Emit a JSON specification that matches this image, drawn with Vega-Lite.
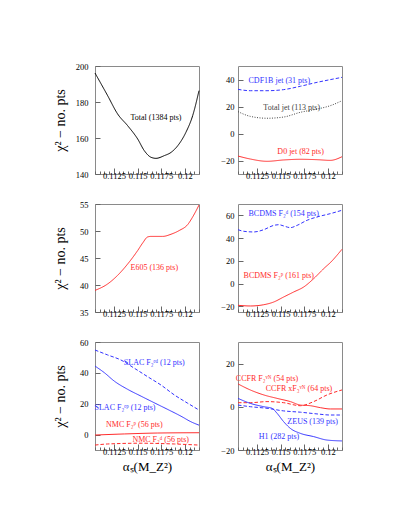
{
  "$schema": "https://vega.github.io/schema/vega-lite/v6.json",
  "padding": {"top": 61, "left": 52, "right": 0, "bottom": 0},
  "background": "white",
  "config": {
    "font": "Liberation Serif",
    "view": {"stroke": "#8a8a8a", "strokeWidth": 1},
    "axis": {"domain": false, "grid": false, "labelFont": "Liberation Serif", "labelFontSize": 8.5, "labelColor": "#000", "tickColor": "#666", "titleFont": "Liberation Serif", "titleFontWeight": "normal", "titleColor": "#000", "labelFlush": false, "labelOverlap": false},
    "text": {"font": "Liberation Serif", "fontSize": 8},
    "line": {"strokeWidth": 1, "interpolate": "monotone"}
  },
  "datasets": {
    "curves": [
      {"panel": 1, "series": "total", "x": 0.1105, "y": 196.1},
      {"panel": 1, "series": "total", "x": 0.11184, "y": 183.5},
      {"panel": 1, "series": "total", "x": 0.1129, "y": 173.3},
      {"panel": 1, "series": "total", "x": 0.11396, "y": 166.8},
      {"panel": 1, "series": "total", "x": 0.11502, "y": 159.4},
      {"panel": 1, "series": "total", "x": 0.11571, "y": 153.0},
      {"panel": 1, "series": "total", "x": 0.11642, "y": 149.3},
      {"panel": 1, "series": "total", "x": 0.11695, "y": 148.7},
      {"panel": 1, "series": "total", "x": 0.11783, "y": 150.2},
      {"panel": 1, "series": "total", "x": 0.11854, "y": 152.0},
      {"panel": 1, "series": "total", "x": 0.11925, "y": 155.7},
      {"panel": 1, "series": "total", "x": 0.12012, "y": 163.2},
      {"panel": 1, "series": "total", "x": 0.12083, "y": 172.4},
      {"panel": 1, "series": "total", "x": 0.1215, "y": 186.3},

      {"panel": 2, "series": "cdf", "x": 0.1105, "y": 32.7},
      {"panel": 2, "series": "cdf", "x": 0.1118, "y": 31.7},
      {"panel": 2, "series": "cdf", "x": 0.11357, "y": 31.7},
      {"panel": 2, "series": "cdf", "x": 0.11533, "y": 32.5},
      {"panel": 2, "series": "cdf", "x": 0.1171, "y": 35.0},
      {"panel": 2, "series": "cdf", "x": 0.11886, "y": 37.9},
      {"panel": 2, "series": "cdf", "x": 0.12026, "y": 39.9},
      {"panel": 2, "series": "cdf", "x": 0.1215, "y": 41.6},
      {"panel": 2, "series": "totaljet", "x": 0.1105, "y": 16.2},
      {"panel": 2, "series": "totaljet", "x": 0.1118, "y": 12.7},
      {"panel": 2, "series": "totaljet", "x": 0.11357, "y": 11.3},
      {"panel": 2, "series": "totaljet", "x": 0.11533, "y": 12.2},
      {"panel": 2, "series": "totaljet", "x": 0.1171, "y": 15.7},
      {"panel": 2, "series": "totaljet", "x": 0.11886, "y": 18.1},
      {"panel": 2, "series": "totaljet", "x": 0.12026, "y": 20.6},
      {"panel": 2, "series": "totaljet", "x": 0.1215, "y": 24.3},
      {"panel": 2, "series": "d0", "x": 0.1105, "y": -16.7},
      {"panel": 2, "series": "d0", "x": 0.1118, "y": -18.9},
      {"panel": 2, "series": "d0", "x": 0.11357, "y": -20.6},
      {"panel": 2, "series": "d0", "x": 0.11533, "y": -19.6},
      {"panel": 2, "series": "d0", "x": 0.1171, "y": -19.1},
      {"panel": 2, "series": "d0", "x": 0.11886, "y": -19.4},
      {"panel": 2, "series": "d0", "x": 0.12026, "y": -19.9},
      {"panel": 2, "series": "d0", "x": 0.1215, "y": -17.2},

      {"panel": 3, "series": "e605", "x": 0.1105, "y": 39.0},
      {"panel": 3, "series": "e605", "x": 0.11184, "y": 40.2},
      {"panel": 3, "series": "e605", "x": 0.1129, "y": 41.8},
      {"panel": 3, "series": "e605", "x": 0.11396, "y": 43.9},
      {"panel": 3, "series": "e605", "x": 0.11502, "y": 46.4},
      {"panel": 3, "series": "e605", "x": 0.11555, "y": 47.8},
      {"panel": 3, "series": "e605", "x": 0.11607, "y": 48.9},
      {"panel": 3, "series": "e605", "x": 0.11642, "y": 49.0},
      {"panel": 3, "series": "e605", "x": 0.11766, "y": 49.0},
      {"panel": 3, "series": "e605", "x": 0.11854, "y": 49.4},
      {"panel": 3, "series": "e605", "x": 0.11942, "y": 50.1},
      {"panel": 3, "series": "e605", "x": 0.12031, "y": 51.2},
      {"panel": 3, "series": "e605", "x": 0.12083, "y": 52.6},
      {"panel": 3, "series": "e605", "x": 0.1215, "y": 54.8},

      {"panel": 4, "series": "bcdms_d", "x": 0.1105, "y": 47.4},
      {"panel": 4, "series": "bcdms_d", "x": 0.11111, "y": 46.0},
      {"panel": 4, "series": "bcdms_d", "x": 0.11217, "y": 45.4},
      {"panel": 4, "series": "bcdms_d", "x": 0.11322, "y": 47.4},
      {"panel": 4, "series": "bcdms_d", "x": 0.11428, "y": 51.2},
      {"panel": 4, "series": "bcdms_d", "x": 0.11481, "y": 51.8},
      {"panel": 4, "series": "bcdms_d", "x": 0.11533, "y": 50.7},
      {"panel": 4, "series": "bcdms_d", "x": 0.11604, "y": 49.2},
      {"panel": 4, "series": "bcdms_d", "x": 0.11675, "y": 51.2},
      {"panel": 4, "series": "bcdms_d", "x": 0.11781, "y": 55.7},
      {"panel": 4, "series": "bcdms_d", "x": 0.11886, "y": 58.6},
      {"panel": 4, "series": "bcdms_d", "x": 0.12026, "y": 61.5},
      {"panel": 4, "series": "bcdms_d", "x": 0.1215, "y": 64.5},
      {"panel": 4, "series": "bcdms_p", "x": 0.1105, "y": -19.1},
      {"panel": 4, "series": "bcdms_p", "x": 0.1118, "y": -19.7},
      {"panel": 4, "series": "bcdms_p", "x": 0.11322, "y": -18.6},
      {"panel": 4, "series": "bcdms_p", "x": 0.11428, "y": -16.2},
      {"panel": 4, "series": "bcdms_p", "x": 0.11533, "y": -11.8},
      {"panel": 4, "series": "bcdms_p", "x": 0.11639, "y": -7.4},
      {"panel": 4, "series": "bcdms_p", "x": 0.11745, "y": -3.0},
      {"panel": 4, "series": "bcdms_p", "x": 0.1185, "y": 4.3},
      {"panel": 4, "series": "bcdms_p", "x": 0.11956, "y": 13.1},
      {"panel": 4, "series": "bcdms_p", "x": 0.12044, "y": 19.9},
      {"panel": 4, "series": "bcdms_p", "x": 0.12097, "y": 24.9},
      {"panel": 4, "series": "bcdms_p", "x": 0.1215, "y": 30.2},

      {"panel": 5, "series": "slac_ed", "x": 0.1105, "y": 54.8},
      {"panel": 5, "series": "slac_ed", "x": 0.11184, "y": 51.6},
      {"panel": 5, "series": "slac_ed", "x": 0.11325, "y": 48.3},
      {"panel": 5, "series": "slac_ed", "x": 0.11466, "y": 43.0},
      {"panel": 5, "series": "slac_ed", "x": 0.11607, "y": 37.5},
      {"panel": 5, "series": "slac_ed", "x": 0.11748, "y": 32.1},
      {"panel": 5, "series": "slac_ed", "x": 0.11889, "y": 25.7},
      {"panel": 5, "series": "slac_ed", "x": 0.12031, "y": 20.3},
      {"panel": 5, "series": "slac_ed", "x": 0.1215, "y": 15.9},
      {"panel": 5, "series": "slac_ep", "x": 0.1105, "y": 44.4},
      {"panel": 5, "series": "slac_ep", "x": 0.11149, "y": 40.1},
      {"panel": 5, "series": "slac_ep", "x": 0.11255, "y": 34.6},
      {"panel": 5, "series": "slac_ep", "x": 0.11396, "y": 29.3},
      {"panel": 5, "series": "slac_ep", "x": 0.11537, "y": 24.9},
      {"panel": 5, "series": "slac_ep", "x": 0.11677, "y": 20.6},
      {"panel": 5, "series": "slac_ep", "x": 0.11819, "y": 16.3},
      {"panel": 5, "series": "slac_ep", "x": 0.1196, "y": 11.9},
      {"panel": 5, "series": "slac_ep", "x": 0.12065, "y": 8.3},
      {"panel": 5, "series": "slac_ep", "x": 0.1215, "y": 6.1},
      {"panel": 5, "series": "nmc_p", "x": 0.1105, "y": -0.3},
      {"panel": 5, "series": "nmc_p", "x": 0.1136, "y": 0.4},
      {"panel": 5, "series": "nmc_p", "x": 0.11713, "y": 1.0},
      {"panel": 5, "series": "nmc_p", "x": 0.1215, "y": 1.2},
      {"panel": 5, "series": "nmc_d", "x": 0.1105, "y": -6.8},
      {"panel": 5, "series": "nmc_d", "x": 0.11184, "y": -6.1},
      {"panel": 5, "series": "nmc_d", "x": 0.11537, "y": -5.6},
      {"panel": 5, "series": "nmc_d", "x": 0.11889, "y": -6.1},
      {"panel": 5, "series": "nmc_d", "x": 0.1215, "y": -6.8},

      {"panel": 6, "series": "ccfr_f2", "x": 0.1105, "y": 10.6},
      {"panel": 6, "series": "ccfr_f2", "x": 0.1118, "y": 7.8},
      {"panel": 6, "series": "ccfr_f2", "x": 0.11322, "y": 5.5},
      {"panel": 6, "series": "ccfr_f2", "x": 0.11463, "y": 3.9},
      {"panel": 6, "series": "ccfr_f2", "x": 0.11604, "y": 2.4},
      {"panel": 6, "series": "ccfr_f2", "x": 0.1171, "y": 0.8},
      {"panel": 6, "series": "ccfr_f2", "x": 0.11816, "y": 0.5},
      {"panel": 6, "series": "ccfr_f2", "x": 0.11922, "y": -0.4},
      {"panel": 6, "series": "ccfr_f2", "x": 0.12026, "y": -1.0},
      {"panel": 6, "series": "ccfr_f2", "x": 0.1215, "y": -1.0},
      {"panel": 6, "series": "ccfr_xf3", "x": 0.1105, "y": 1.9},
      {"panel": 6, "series": "ccfr_xf3", "x": 0.1118, "y": 1.9},
      {"panel": 6, "series": "ccfr_xf3", "x": 0.11357, "y": 2.4},
      {"panel": 6, "series": "ccfr_xf3", "x": 0.11533, "y": 1.9},
      {"panel": 6, "series": "ccfr_xf3", "x": 0.1171, "y": 0.5},
      {"panel": 6, "series": "ccfr_xf3", "x": 0.1185, "y": 2.4},
      {"panel": 6, "series": "ccfr_xf3", "x": 0.11992, "y": 5.5},
      {"panel": 6, "series": "ccfr_xf3", "x": 0.1215, "y": 7.8},
      {"panel": 6, "series": "zeus", "x": 0.1105, "y": 0.8},
      {"panel": 6, "series": "zeus", "x": 0.1118, "y": 0.05},
      {"panel": 6, "series": "zeus", "x": 0.11357, "y": -0.7},
      {"panel": 6, "series": "zeus", "x": 0.11533, "y": -1.9},
      {"panel": 6, "series": "zeus", "x": 0.1171, "y": -2.5},
      {"panel": 6, "series": "zeus", "x": 0.11886, "y": -3.3},
      {"panel": 6, "series": "zeus", "x": 0.12026, "y": -3.8},
      {"panel": 6, "series": "zeus", "x": 0.1215, "y": -3.8},
      {"panel": 6, "series": "h1", "x": 0.1105, "y": 3.9},
      {"panel": 6, "series": "h1", "x": 0.1118, "y": 1.6},
      {"panel": 6, "series": "h1", "x": 0.11322, "y": 0.05},
      {"panel": 6, "series": "h1", "x": 0.1141, "y": -0.7},
      {"panel": 6, "series": "h1", "x": 0.11463, "y": -3.0},
      {"panel": 6, "series": "h1", "x": 0.11533, "y": -6.9},
      {"panel": 6, "series": "h1", "x": 0.11604, "y": -10.0},
      {"panel": 6, "series": "h1", "x": 0.1171, "y": -12.3},
      {"panel": 6, "series": "h1", "x": 0.1185, "y": -13.8},
      {"panel": 6, "series": "h1", "x": 0.11992, "y": -15.4},
      {"panel": 6, "series": "h1", "x": 0.1215, "y": -15.8}
    ],
    "labels": [
      {"panel": 1, "series": "total", "label": "Total (1384 pts)", "x": 0.11695, "y": 171},
      {"panel": 2, "series": "cdf", "label": "CDF1B jet (31 pts)", "x": 0.11487, "y": 38.9},
      {"panel": 2, "series": "totaljet", "label": "Total jet (113 pts)", "x": 0.11618, "y": 19.1},
      {"panel": 2, "series": "d0", "label": "D0 jet (82 pts)", "x": 0.11712, "y": -13.5},
      {"panel": 3, "series": "e605", "label": "E605 (136 pts)", "x": 0.11677, "y": 43.2},
      {"panel": 4, "series": "bcdms_d", "label": "BCDMS F₂ᵈ (154 pts)", "x": 0.11533, "y": 61.5},
      {"panel": 4, "series": "bcdms_p", "label": "BCDMS F₂ᵖ (161 pts)", "x": 0.11481, "y": 6.7},
      {"panel": 5, "series": "slac_ed", "label": "SLAC F₂ᵉᵈ (12 pts)", "x": 0.11677, "y": 46.2},
      {"panel": 5, "series": "slac_ep", "label": "SLAC F₂ᵉᵖ (12 pts)", "x": 0.11367, "y": 17.0},
      {"panel": 5, "series": "nmc_p", "label": "NMC F₂ᵖ (56 pts)", "x": 0.11466, "y": 6.2},
      {"panel": 5, "series": "nmc_d", "label": "NMC F₂ᵈ (56 pts)", "x": 0.11745, "y": -3.3},
      {"panel": 6, "series": "ccfr_f2", "label": "CCFR F₂ᵛᴺ (54 pts)", "x": 0.11357, "y": 12.9},
      {"panel": 6, "series": "ccfr_xf3", "label": "CCFR xF₃ᵛᴺ (64 pts)", "x": 0.11695, "y": 8.1},
      {"panel": 6, "series": "zeus", "label": "ZEUS (139 pts)", "x": 0.1184, "y": -7.2},
      {"panel": 6, "series": "h1", "label": "H1 (282 pts)", "x": 0.11484, "y": -13.8}
    ]
  },
  "columns": 2,
  "spacing": {"row": 16, "column": 18},
  "resolve": {"scale": {"x": "independent", "y": "independent", "color": "shared", "strokeDash": "shared"}},
  "concat": [
    {
      "width": 104, "height": 108,
      "encoding": {
        "x": {"field": "x", "type": "quantitative", "scale": {"domain": [0.1105, 0.1215], "nice": false, "zero": false},
              "axis": {"title": null, "values": [0.1105,0.111,0.1115,0.112,0.1125,0.113,0.1135,0.114,0.1145,0.115,0.1155,0.116,0.1165,0.117,0.1175,0.118,0.1185,0.119,0.1195,0.12,0.1205,0.121,0.1215],
                       "labelExpr": "abs(datum.value*400-round(datum.value*400))<0.01 ? format(datum.value,'.4~f') : ''",
                       "tickSize": {"condition": {"test": "abs(datum.value*400-round(datum.value*400))<0.01", "value": -6}, "value": -3}, "labelPadding": 3}},
        "y": {"field": "y", "type": "quantitative", "scale": {"domain": [140, 200], "nice": false, "zero": false},
              "axis": {"values": [140,160,180,200], "tickSize": -5, "labelPadding": 12, "title": "χ² − no. pts", "titleFontSize": 14, "minExtent": 22, "maxExtent": 22, "titlePadding": 6}}
      },
      "layer": [
        {"data": {"name": "curves"}, "transform": [{"filter": "datum.panel == 1"}], "mark": "line",
         "encoding": {
           "color": {"field": "series", "type": "nominal", "legend": null, "scale": {"domain": ["total","cdf","totaljet","d0","e605","bcdms_d","bcdms_p","slac_ed","slac_ep","nmc_p","nmc_d","ccfr_f2","ccfr_xf3","zeus","h1"], "range": ["#000000","#3333ff","#444444","#ff2a2a","#ff2a2a","#3333ff","#ff2a2a","#3333ff","#3333ff","#ff2a2a","#ff2a2a","#ff2a2a","#ff2a2a","#3333ff","#3333ff"]}},
           "strokeDash": {"field": "series", "type": "nominal", "legend": null, "scale": {"domain": ["total","cdf","totaljet","d0","e605","bcdms_d","bcdms_p","slac_ed","slac_ep","nmc_p","nmc_d","ccfr_f2","ccfr_xf3","zeus","h1"], "range": [[1,0],[3.5,2],[1,1.5],[1,0],[1,0],[3.5,2],[1,0],[3.5,2],[1,0],[1,0],[3.5,2],[1,0],[3.5,2],[3.5,2],[1,0]]}}
         }},
        {"data": {"name": "labels"}, "transform": [{"filter": "datum.panel == 1"}], "mark": {"type": "text"},
         "encoding": {"text": {"field": "label"}, "color": {"field": "series", "type": "nominal", "legend": null}}}
      ]
    },
    {
      "width": 104, "height": 108,
      "encoding": {
        "x": {"field": "x", "type": "quantitative", "scale": {"domain": [0.1105, 0.1215], "nice": false, "zero": false},
              "axis": {"title": null, "values": [0.1105,0.111,0.1115,0.112,0.1125,0.113,0.1135,0.114,0.1145,0.115,0.1155,0.116,0.1165,0.117,0.1175,0.118,0.1185,0.119,0.1195,0.12,0.1205,0.121,0.1215],
                       "labelExpr": "abs(datum.value*400-round(datum.value*400))<0.01 ? format(datum.value,'.4~f') : ''",
                       "tickSize": {"condition": {"test": "abs(datum.value*400-round(datum.value*400))<0.01", "value": -6}, "value": -3}, "labelPadding": 3}},
        "y": {"field": "y", "type": "quantitative", "scale": {"domain": [-30, 50], "nice": false, "zero": false},
              "axis": {"values": [-20,0,20,40], "tickSize": -5, "labelPadding": 9, "title": null}}
      },
      "layer": [
        {"data": {"name": "curves"}, "transform": [{"filter": "datum.panel == 2"}], "mark": "line",
         "encoding": {"color": {"field": "series", "type": "nominal", "legend": null}, "strokeDash": {"field": "series", "type": "nominal", "legend": null}}},
        {"data": {"name": "labels"}, "transform": [{"filter": "datum.panel == 2"}], "mark": {"type": "text"},
         "encoding": {"text": {"field": "label"}, "color": {"field": "series", "type": "nominal", "legend": null}}}
      ]
    },
    {
      "width": 104, "height": 108,
      "encoding": {
        "x": {"field": "x", "type": "quantitative", "scale": {"domain": [0.1105, 0.1215], "nice": false, "zero": false},
              "axis": {"title": null, "values": [0.1105,0.111,0.1115,0.112,0.1125,0.113,0.1135,0.114,0.1145,0.115,0.1155,0.116,0.1165,0.117,0.1175,0.118,0.1185,0.119,0.1195,0.12,0.1205,0.121,0.1215],
                       "labelExpr": "abs(datum.value*400-round(datum.value*400))<0.01 ? format(datum.value,'.4~f') : ''",
                       "tickSize": {"condition": {"test": "abs(datum.value*400-round(datum.value*400))<0.01", "value": -6}, "value": -3}, "labelPadding": 3}},
        "y": {"field": "y", "type": "quantitative", "scale": {"domain": [35, 55], "nice": false, "zero": false},
              "axis": {"values": [35,40,45,50,55], "tickSize": -5, "labelPadding": 12, "title": "χ² − no. pts", "titleFontSize": 14, "minExtent": 22, "maxExtent": 22, "titlePadding": 6}}
      },
      "layer": [
        {"data": {"name": "curves"}, "transform": [{"filter": "datum.panel == 3"}], "mark": "line",
         "encoding": {"color": {"field": "series", "type": "nominal", "legend": null}, "strokeDash": {"field": "series", "type": "nominal", "legend": null}}},
        {"data": {"name": "labels"}, "transform": [{"filter": "datum.panel == 3"}], "mark": {"type": "text"},
         "encoding": {"text": {"field": "label"}, "color": {"field": "series", "type": "nominal", "legend": null}}}
      ]
    },
    {
      "width": 104, "height": 108,
      "encoding": {
        "x": {"field": "x", "type": "quantitative", "scale": {"domain": [0.1105, 0.1215], "nice": false, "zero": false},
              "axis": {"title": null, "values": [0.1105,0.111,0.1115,0.112,0.1125,0.113,0.1135,0.114,0.1145,0.115,0.1155,0.116,0.1165,0.117,0.1175,0.118,0.1185,0.119,0.1195,0.12,0.1205,0.121,0.1215],
                       "labelExpr": "abs(datum.value*400-round(datum.value*400))<0.01 ? format(datum.value,'.4~f') : ''",
                       "tickSize": {"condition": {"test": "abs(datum.value*400-round(datum.value*400))<0.01", "value": -6}, "value": -3}, "labelPadding": 3}},
        "y": {"field": "y", "type": "quantitative", "scale": {"domain": [-25, 70], "nice": false, "zero": false},
              "axis": {"values": [-20,0,20,40,60], "tickSize": -5, "labelPadding": 9, "title": null}}
      },
      "layer": [
        {"data": {"name": "curves"}, "transform": [{"filter": "datum.panel == 4"}], "mark": "line",
         "encoding": {"color": {"field": "series", "type": "nominal", "legend": null}, "strokeDash": {"field": "series", "type": "nominal", "legend": null}}},
        {"data": {"name": "labels"}, "transform": [{"filter": "datum.panel == 4"}], "mark": {"type": "text"},
         "encoding": {"text": {"field": "label"}, "color": {"field": "series", "type": "nominal", "legend": null}}}
      ]
    },
    {
      "width": 104, "height": 108,
      "encoding": {
        "x": {"field": "x", "type": "quantitative", "scale": {"domain": [0.1105, 0.1215], "nice": false, "zero": false},
              "axis": {"title": "αₛ(M_Z²)", "titleFontSize": 13, "titlePadding": 2, "values": [0.1105,0.111,0.1115,0.112,0.1125,0.113,0.1135,0.114,0.1145,0.115,0.1155,0.116,0.1165,0.117,0.1175,0.118,0.1185,0.119,0.1195,0.12,0.1205,0.121,0.1215],
                       "labelExpr": "abs(datum.value*400-round(datum.value*400))<0.01 ? format(datum.value,'.4~f') : ''",
                       "tickSize": {"condition": {"test": "abs(datum.value*400-round(datum.value*400))<0.01", "value": -6}, "value": -3}, "labelPadding": 3}},
        "y": {"field": "y", "type": "quantitative", "scale": {"domain": [-10, 60], "nice": false, "zero": false},
              "axis": {"values": [0,20,40,60], "tickSize": -5, "labelPadding": 12, "title": "χ² − no. pts", "titleFontSize": 14, "minExtent": 22, "maxExtent": 22, "titlePadding": 6}}
      },
      "layer": [
        {"data": {"name": "curves"}, "transform": [{"filter": "datum.panel == 5"}], "mark": "line",
         "encoding": {"color": {"field": "series", "type": "nominal", "legend": null}, "strokeDash": {"field": "series", "type": "nominal", "legend": null}}},
        {"data": {"name": "labels"}, "transform": [{"filter": "datum.panel == 5"}], "mark": {"type": "text"},
         "encoding": {"text": {"field": "label"}, "color": {"field": "series", "type": "nominal", "legend": null}}}
      ]
    },
    {
      "width": 104, "height": 108,
      "encoding": {
        "x": {"field": "x", "type": "quantitative", "scale": {"domain": [0.1105, 0.1215], "nice": false, "zero": false},
              "axis": {"title": "αₛ(M_Z²)", "titleFontSize": 13, "titlePadding": 2, "values": [0.1105,0.111,0.1115,0.112,0.1125,0.113,0.1135,0.114,0.1145,0.115,0.1155,0.116,0.1165,0.117,0.1175,0.118,0.1185,0.119,0.1195,0.12,0.1205,0.121,0.1215],
                       "labelExpr": "abs(datum.value*400-round(datum.value*400))<0.01 ? format(datum.value,'.4~f') : ''",
                       "tickSize": {"condition": {"test": "abs(datum.value*400-round(datum.value*400))<0.01", "value": -6}, "value": -3}, "labelPadding": 3}},
        "y": {"field": "y", "type": "quantitative", "scale": {"domain": [-20, 30], "nice": false, "zero": false},
              "axis": {"values": [-20,0,20], "tickSize": -5, "labelPadding": 9, "title": null}}
      },
      "layer": [
        {"data": {"name": "curves"}, "transform": [{"filter": "datum.panel == 6"}], "mark": "line",
         "encoding": {"color": {"field": "series", "type": "nominal", "legend": null}, "strokeDash": {"field": "series", "type": "nominal", "legend": null}}},
        {"data": {"name": "labels"}, "transform": [{"filter": "datum.panel == 6"}], "mark": {"type": "text"},
         "encoding": {"text": {"field": "label"}, "color": {"field": "series", "type": "nominal", "legend": null}}}
      ]
    }
  ]
}
